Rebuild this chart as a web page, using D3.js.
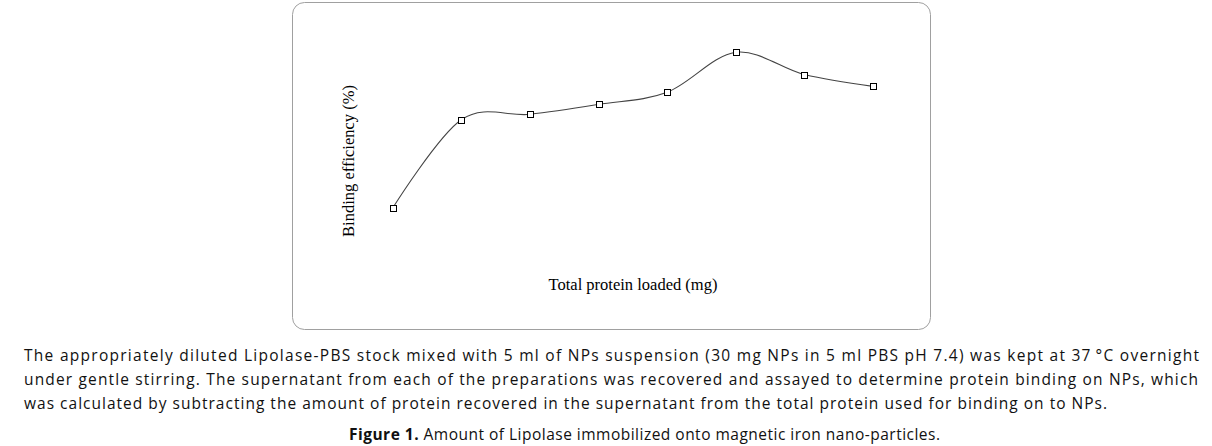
<!DOCTYPE html>
<html>
<head>
<meta charset="utf-8">
<script src="https://cdn.jsdelivr.net/npm/d3@7"></script>
<style>
  body { margin: 0; background: #fff; }
  svg { display: block; }
</style>
</head>
<body>
<div id="viz"></div>
<script>
// protein loading steps (x axis has no tick labels in the figure)
var loads = [1, 2, 3, 4, 5, 6, 7, 8];
// binding efficiency (%)
var efficiency = [40, 72.9, 74.9, 78.6, 83.1, 98, 89.7, 85.3];

var captionLines = [
  'The appropriately diluted Lipolase-PBS stock mixed with 5 ml of NPs suspension (30 mg NPs in 5 ml PBS pH 7.4) was kept at 37\u2009\u00b0C overnight',
  'under gentle stirring. The supernatant from each of the preparations was recovered and assayed to determine protein binding on NPs, which',
  'was calculated by subtracting the amount of protein recovered in the supernatant from the total protein used for binding on to NPs.'
];
var captionWidths = [1175, 1174, 1083];

var width = 1212, height = 446;

var svg = d3.select('#viz').append('svg')
  .attr('width', width)
  .attr('height', height);

// rounded frame round the plot
svg.append('rect')
  .attr('x', 292.5).attr('y', 2.5)
  .attr('width', 638).attr('height', 327)
  .attr('rx', 12).attr('ry', 12)
  .attr('fill', 'none')
  .attr('stroke', '#a0a0a0')
  .attr('stroke-width', 1);

var xScale = d3.scaleLinear()
  .domain([1, 8])
  .range([392.7, 873]);

var yScale = d3.scaleLinear()
  .domain([40, 98])
  .range([208, 52.3]);

var line = d3.line()
  .x(function(d, i) { return xScale(loads[i]); })
  .y(function(d) { return yScale(d); })
  .curve(d3.curveCardinal.tension(0));

svg.append('path')
  .datum(efficiency)
  .attr('d', line)
  .attr('fill', 'none')
  .attr('stroke', '#444')
  .attr('stroke-width', 1.1);

svg.selectAll('rect.pt').data(efficiency)
  .enter().append('rect')
    .attr('class', 'pt')
    .attr('x', function(d, i) { return Math.round(xScale(loads[i])) - 3 + 0.5; })
    .attr('y', function(d) { return Math.round(yScale(d)) - 3 + 0.5; })
    .attr('width', 6)
    .attr('height', 6)
    .attr('fill', '#fff')
    .attr('stroke', '#000')
    .attr('stroke-width', 1);

// axis titles
svg.append('text')
  .attr('transform', 'translate(354,161) rotate(-90)')
  .attr('text-anchor', 'middle')
  .style('font-family', '"Liberation Serif", serif')
  .style('font-size', '16.5px')
  .text('Binding efficiency (%)');

svg.append('text')
  .attr('x', 633).attr('y', 290)
  .attr('text-anchor', 'middle')
  .style('font-family', '"Liberation Serif", serif')
  .style('font-size', '16.5px')
  .text('Total protein loaded (mg)');

// caption
var cap = svg.append('g')
  .style('font-family', '"Open Sans", "Liberation Sans", sans-serif')
  .style('font-size', '15.5px')
  .attr('fill', '#111');

captionLines.forEach(function(t, i) {
  cap.append('text')
    .attr('x', 24)
    .attr('y', 361 + i * 24)
    .attr('textLength', captionWidths[i])
    .attr('lengthAdjust', 'spacing')
    .text(t);
});

var fig = cap.append('text')
  .attr('x', 349).attr('y', 440)
  .attr('textLength', 591)
  .attr('lengthAdjust', 'spacing');
fig.append('tspan').style('font-weight', 'bold').text('Figure 1.');
fig.append('tspan').text(' Amount of Lipolase immobilized onto magnetic iron nano-particles.');
</script>
</body>
</html>
